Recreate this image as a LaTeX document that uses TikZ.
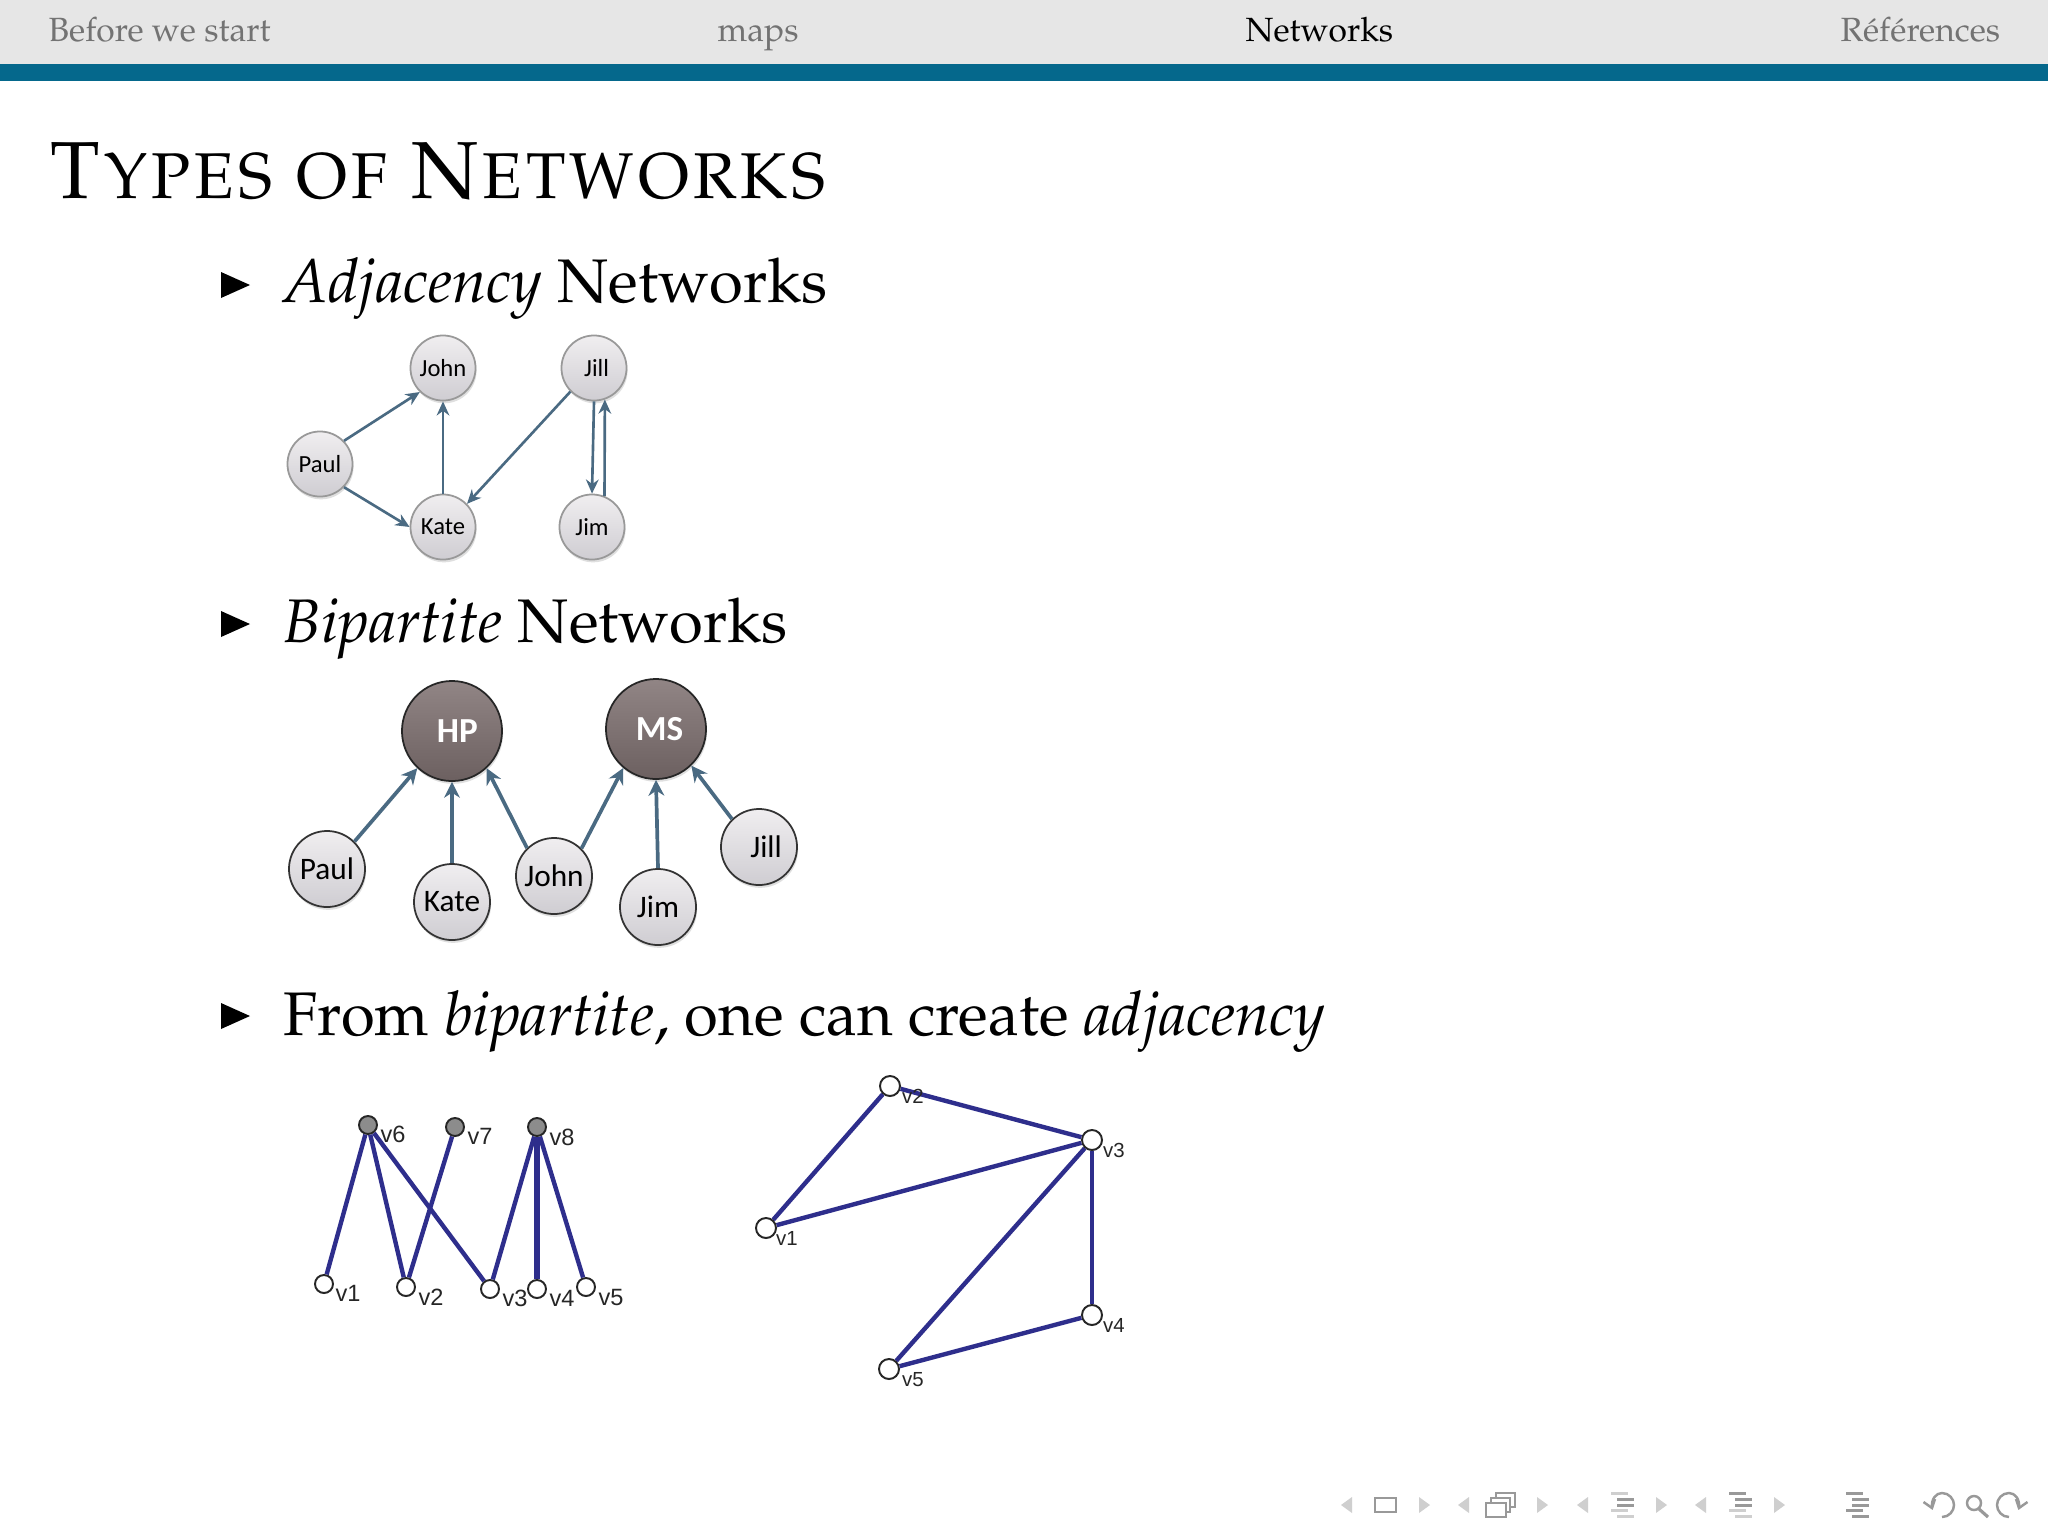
\documentclass[tikz,border=0pt]{standalone}
\usepackage{fontspec}
\usepackage[T1]{fontenc}
\usepackage{palatino}
\usetikzlibrary{shadows,arrows.meta}
\newfontfamily\calibrifont{Carlito}
\newfontfamily\arialfont{Liberation Sans}
\definecolor{navgray}{HTML}{E6E6E6}
\definecolor{navteal}{HTML}{05688C}
\definecolor{arrowblue}{HTML}{4A6A82}
\definecolor{edgeblue}{HTML}{2E2E8C}
\definecolor{icondark}{HTML}{999999}
\definecolor{iconlight}{HTML}{CFCFCF}
\definecolor{firmtop}{HTML}{918585}
\definecolor{firmbottom}{HTML}{6C6060}
\definecolor{persontop}{HTML}{F0EEF0}
\definecolor{personbottom}{HTML}{CFCDD2}
\tikzset{
  person/.style={circle,draw=gray!80,line width=0.5pt,inner sep=0pt,top color=persontop,bottom color=personbottom,
    drop shadow={opacity=0.25,shadow xshift=0.3pt,shadow yshift=-0.8pt}},
  smallperson/.style={person,minimum size=0.65cm,font=\calibrifont\fontsize{7}{8}\selectfont},
  bigperson/.style={person,draw=black!80,minimum size=0.76cm,font=\calibrifont\fontsize{8.9}{10}\selectfont},
  firm/.style={person,draw=black!85,minimum size=1.0cm,top color=firmtop,bottom color=firmbottom,text=white,
    font=\calibrifont\bfseries\fontsize{10}{10}\selectfont},
  link/.style={draw=arrowblue,line width=0.75pt,-{Stealth[length=4pt,width=3.6pt]}},
  biglink/.style={draw=arrowblue,line width=1.05pt,-{Stealth[length=4.5pt,width=4.5pt]}},
  vertex/.style={circle,draw=black!85,fill=white,line width=0.55pt,inner sep=0pt,minimum size=0.18cm},
  bigvertex/.style={vertex,minimum size=0.2cm},
  top vertex/.style={vertex,fill=gray!90},
  edge/.style={draw=edgeblue,line width=1.25pt},
  vlabel/.style={inner sep=0pt,font=\arialfont\fontsize{6.7}{7}\selectfont,text=black!85},
  smalllabel/.style={vlabel,font=\arialfont\fontsize{5.8}{6}\selectfont},
  navtext/.style={anchor=base west,inner sep=0pt,font=\fontsize{9.55}{11}\selectfont,text=black!55},
  itemtext/.style={anchor=base west,inner sep=0pt,font=\fontsize{17.5}{20}\selectfont},
  bullet/.style={fill=black},
  navbar/.style={line width=0.8pt,draw=icondark},
}
\begin{document}
\begin{tikzpicture}[x=0.01cm,y=-0.01cm]
\useasboundingbox (0,0) rectangle (2048,1536);
\fill[white] (0,0) rectangle (2048,1536);

% header
\fill[navgray] (0,0) rectangle (2048,64);
\fill[navteal] (0,64) rectangle (2048,81);
\node[navtext] (before) at (48,41) {Before we start};
\node[navtext] (maps) at (717,41) {maps};
\node[navtext,text=black] (networks) at (1245,41) {Networks};
\node[navtext] (references) at (1840,41) {R\'ef\'erences};

\node[anchor=base west,inner sep=0pt,font=\fontsize{23}{26}\selectfont\scshape] (title) at (48,198) {Types of Networks};

% items
\foreach \y in {285,624,1016}
  \fill[bullet] (221,\y-13) -- (250,\y) -- (221,\y+13) -- cycle;
\node[itemtext] (adj) at (283,302) {\textit{Adjacency} Networks};
\node[itemtext] (bip) at (283,642) {\textit{Bipartite} Networks};
\node[itemtext] (from) at (283,1035) {From \textit{bipartite}, one can create \textit{adjacency}};

% adjacency
\node[smallperson] (aJohn) at (443,368) {John};
\node[smallperson] (aJill) at (594,368) {\hspace*{1.5pt}Jill};
\node[smallperson] (aPaul) at (320,464) {Paul};
\node[smallperson] (aKate) at (443,527) {Kate};
\node[smallperson] (aJim) at (592,527) {Jim};
\draw[link] (aPaul.44) -- (aJohn.226);
\draw[link] (aPaul.-44) -- (aKate.180);
\draw[link] (aKate.90) -- (aJohn.270);
\draw[link] (aJill.225) -- (aKate.44);
\draw[link] (aJill.270) -- (aJim.90);
\draw[link] (aJim.68) -- (aJill.289);

% bipartite
\node[firm] (HP) at (452,731) {\hspace*{3pt}HP};
\node[firm] (MS) at (656,729) {\hspace*{2pt}MS};
\node[bigperson] (bPaul) at (327,869) {Paul};
\node[bigperson] (bKate) at (452,902) {Kate};
\node[bigperson] (bJohn) at (554,876) {John};
\node[bigperson] (bJim) at (658,907) {Jim};
\node[bigperson] (bJill) at (759,847) {\hspace*{4pt}Jill};
\draw[biglink] (bPaul.45) -- (HP.227);
\draw[biglink] (bKate.90) -- (HP.270);
\draw[biglink] (bJohn.134) -- (HP.313);
\draw[biglink] (bJohn.45) -- (MS.230);
\draw[biglink] (bJim.90) -- (MS.270);
\draw[biglink] (bJill.134) -- (MS.314);

% two-mode graph
\node[top vertex] (lv6) at (368,1125) {};
\node[top vertex] (lv7) at (455,1127) {};
\node[top vertex] (lv8) at (537,1127) {};
\node[vertex] (lv1) at (324,1284) {};
\node[vertex] (lv2) at (406,1287) {};
\node[vertex] (lv3) at (490,1289) {};
\node[vertex] (lv4) at (537,1289) {};
\node[vertex] (lv5) at (586,1287) {};
\foreach \a/\b in {lv6/lv1,lv6/lv2,lv6/lv3,lv7/lv2,lv8/lv3,lv8/lv5}
  \draw[edge] (\a) -- (\b);
\draw[edge,line width=1.8pt] (lv8) -- (lv4);
\node[vlabel] (t6) at (393,1134) {v6};
\node[vlabel] (t7) at (480,1136) {v7};
\node[vlabel] (t8) at (562,1137) {v8};
\node[vlabel] (t1) at (348,1293) {v1};
\node[vlabel] (t2) at (431,1297) {v2};
\node[vlabel] (t3) at (515,1298) {v3};
\node[vlabel] (t4) at (562,1298) {v4};
\node[vlabel] (t5) at (611,1297) {v5};

% projected graph
\node[bigvertex] (rv1) at (766,1228) {};
\node[bigvertex] (rv2) at (890,1086) {};
\node[bigvertex] (rv3) at (1092,1140) {};
\node[bigvertex] (rv4) at (1092,1315) {};
\node[bigvertex] (rv5) at (889,1369) {};
\foreach \a/\b in {rv1/rv2,rv2/rv3,rv1/rv3,rv3/rv5,rv3/rv4,rv4/rv5}
  \draw[edge] (\a) -- (\b);
\node[smalllabel] (s1) at (787,1238) {v1};
\node[smalllabel] (s2) at (913,1096) {v2};
\node[smalllabel] (s3) at (1114,1150) {v3};
\node[smalllabel] (s4) at (1114,1325) {v4};
\node[smalllabel] (s5) at (913,1380) {v5};

% navigation symbols
\foreach \x in {1352,1469,1588,1706}
  \fill[iconlight] (\x,1497) -- (\x-11,1505) -- (\x,1513) -- cycle;
\foreach \x in {1419,1537,1656,1774}
  \fill[iconlight] (\x,1497) -- (\x+11,1505) -- (\x,1513) -- cycle;
\draw[navbar] (1375,1498) rectangle (1396,1512);
\draw[navbar,fill=white] (1496,1493) rectangle (1515,1507);
\draw[navbar,fill=white] (1491,1498) rectangle (1510,1512);
\draw[navbar,fill=white] (1486,1503) rectangle (1506,1517);
\foreach \y/\x/\c in {1493.5/1611/iconlight,1499/1617/icondark,1505/1617/icondark,1510/1611/iconlight,1516/1617/iconlight,
    1493.5/1729/icondark,1499/1735/icondark,1505/1735/icondark,1510/1729/iconlight,1516/1735/iconlight,
    1493.5/1846/icondark,1499/1852/icondark,1505/1852/icondark,1510/1846/icondark,1516/1852/icondark}
  \fill[\c] (\x,\y-1.5) rectangle (\x+17,\y+1.5);
\draw[navbar,line width=0.7pt] (1923.5,1502) -- (1932,1508) -- (1935,1499);
\draw[navbar,line width=0.7pt] (1932,1508) .. controls (1931,1499) and (1936,1493) .. (1942,1493) .. controls (1949,1493) and (1954,1499) .. (1954,1505) .. controls (1954,1511) and (1949,1517) .. (1942,1517);
\draw[navbar,line width=0.7pt] (2027.5,1502) -- (2019,1508) -- (2016,1499);
\draw[navbar,line width=0.7pt] (2019,1508) .. controls (2020,1499) and (2015,1493) .. (2009,1493) .. controls (2002,1493) and (1997,1499) .. (1997,1505) .. controls (1997,1511) and (2002,1517) .. (2009,1517);
\draw[navbar,line width=0.7pt] (1974,1503) circle[radius=7];
\draw[navbar,line width=0.9pt] (1979,1509) -- (1988,1517);
\end{tikzpicture}
\end{document}
